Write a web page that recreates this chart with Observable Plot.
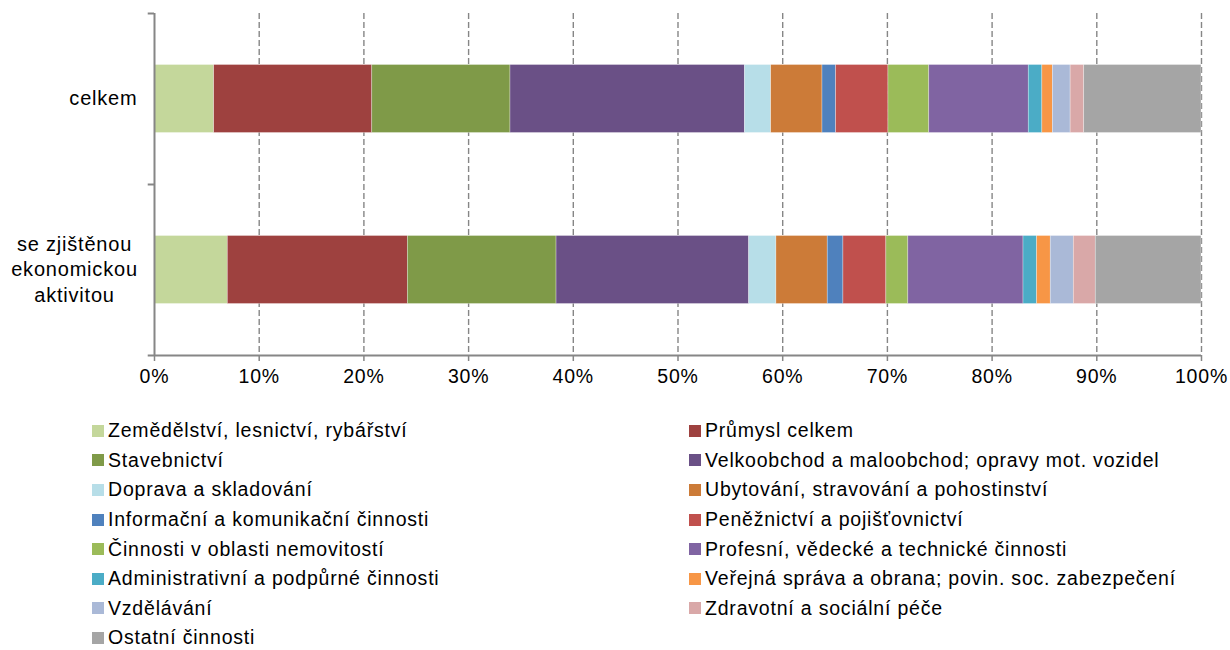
<!DOCTYPE html>
<html>
<head>
<meta charset="utf-8">
<script src="https://cdn.jsdelivr.net/npm/d3@7"></script>
<script src="https://cdn.jsdelivr.net/npm/@observablehq/plot@0.6"></script>
<style>
  html, body { margin: 0; padding: 0; background: #fff; }
  body { width: 1230px; height: 650px; overflow: hidden; font-family: "Liberation Sans", Arial, sans-serif; }
  #legend { display: grid; grid-template-columns: 597px 540px; padding-left: 92px; margin-top: 16px; }
  .item { display: flex; align-items: center; height: 29.6px; font-size: 19.5px; color: #000; white-space: nowrap; letter-spacing: 0.8px; }
  .sw { width: 12px; height: 12px; margin-right: 4px; flex: none; }
</style>
</head>
<body>
<div id="chart"></div>
<div id="legend"></div>
<script>
const categories = ["celkem", "se zjištěnou\nekonomickou\naktivitou"];
const series = [
  "Zemědělství, lesnictví, rybářství",
  "Průmysl celkem",
  "Stavebnictví",
  "Velkoobchod a maloobchod; opravy mot. vozidel",
  "Doprava a skladování",
  "Ubytování, stravování a pohostinství",
  "Informační a komunikační činnosti",
  "Peněžnictví a pojišťovnictví",
  "Činnosti v oblasti nemovitostí",
  "Profesní, vědecké a technické činnosti",
  "Administrativní a podpůrné činnosti",
  "Veřejná správa a obrana; povin. soc. zabezpečení",
  "Vzdělávání",
  "Zdravotní a sociální péče",
  "Ostatní činnosti"
];
const colors = [
  "#C4D79B", "#9E413F", "#7F9A48", "#6A5086", "#B7DEE8",
  "#CC7B38", "#4F81BD", "#C0504D", "#9BBB59", "#8064A2",
  "#4BACC6", "#F79646", "#AAB9D7", "#D9A8A8", "#A5A5A5"
];
const valuesCelkem = [5.7, 15.1, 13.2, 22.4, 2.5, 4.9, 1.3, 5.0, 3.9, 9.5, 1.3, 1.0, 1.7, 1.3, 11.2];
const valuesAktivita = [7.0, 17.2, 14.2, 18.4, 2.6, 4.9, 1.5, 4.1, 2.1, 11.0, 1.3, 1.3, 2.2, 2.1, 10.1];
const xTicks = [0, 10, 20, 30, 40, 50, 60, 70, 80, 90, 100];

const table = [];
series.forEach((s, i) => {
  table.push({cat: categories[0], series: s, value: valuesCelkem[i]});
  table.push({cat: categories[1], series: s, value: valuesAktivita[i]});
});

const axisColor = "#868686";
const half = (355 - 13) / 4;

const chart = Plot.plot({
  width: 1230,
  height: 400,
  marginLeft: 154,
  marginRight: 29,
  marginTop: 13,
  marginBottom: 45,
  style: {fontFamily: "Liberation Sans, Arial, sans-serif", fontSize: "19.5px", color: "#000", background: "#fff", letterSpacing: "0.8px"},
  x: {domain: [0, 100], ticks: xTicks, tickFormat: d => d + "%", label: null},
  y: {domain: categories, padding: 0, axis: null},
  color: {domain: series, range: colors},
  marks: [
    Plot.ruleX(xTicks.filter(d => d > 0), {stroke: axisColor, strokeWidth: 1.4, strokeDasharray: "6,3"}),
    Plot.barX(table, Plot.stackX({
      x: "value", y: "cat", fill: "series",
      insetTop: 51.5, insetBottom: 51.5,
      stroke: "#fff", strokeWidth: 0.6, strokeOpacity: 0.5
    })),
    Plot.ruleX([0], {stroke: axisColor, strokeWidth: 2}),
    Plot.ruleY(categories, {y: d => d, x1: -0.6, x2: 0, dy: -half, stroke: axisColor, strokeWidth: 2}),
    Plot.ruleY([categories[1]], {y: d => d, x1: -0.6, x2: 100, dy: half, stroke: axisColor, strokeWidth: 2}),
    Plot.axisX({ticks: xTicks, tickFormat: d => d + "%", tickSize: 6, tickPadding: 8, stroke: axisColor, strokeWidth: 1.5, fill: "#000", fontSize: 19.5, label: null}),
    Plot.text([categories[0]], {y: d => d, x: 0, text: d => d, textAnchor: "end", dx: -17, fontSize: 20, fill: "#000"}),
    Plot.text([categories[1]], {y: d => d, x: 0, text: d => d, textAnchor: "middle", dx: -80, dy: -2, fontSize: 20, lineHeight: 1.28, fill: "#000"})
  ]
});
document.getElementById("chart").appendChild(chart);

const legend = document.getElementById("legend");
series.forEach((s, i) => {
  const item = document.createElement("div");
  item.className = "item";
  const sw = document.createElement("span");
  sw.className = "sw";
  sw.style.background = colors[i];
  const tx = document.createElement("span");
  tx.textContent = s;
  item.appendChild(sw);
  item.appendChild(tx);
  legend.appendChild(item);
});
</script>
</body>
</html>
